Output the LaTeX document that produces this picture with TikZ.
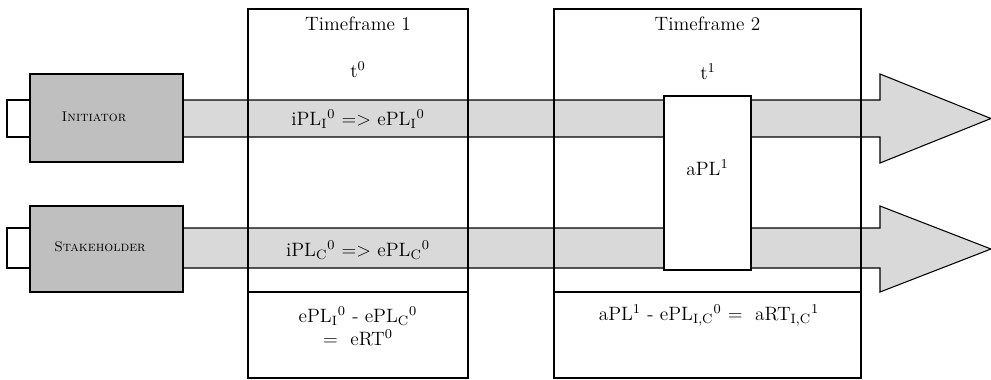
\documentclass[tikz,border=0pt]{standalone}
\begin{document}
\begin{tikzpicture}[x=2mm,y=2mm,font=\fontsize{11}{13}\selectfont,
    band/.style={draw,line width=0.6pt,fill=black!15},
    actor/.style={draw,line width=1.1pt,fill=black!25},
    frame/.style={draw,line width=0.8pt},
    tag/.style={font=\fontsize{8}{10}\selectfont\scshape}]
    \useasboundingbox (0,0) rectangle (99.1,37.9);
    % the two arrows through the timeframes
    \draw[band] (15,27.9) -- (88,27.9) -- (88,30.5) -- (99.1,26.05) -- (88,21.6) -- (88,24.2) -- (15,24.2) -- cycle;
    \draw[band] (15,15.1) -- (88,15.1) -- (88,17.3) -- (99.1,13.0) -- (88,8.7) -- (88,11.1) -- (15,11.1) -- cycle;
    \draw[frame] (24.8,0.1) rectangle (46.8,37.0); \draw[frame] (24.8,8.7) -- (46.8,8.7);
    \draw[frame] (55.4,0.1) rectangle (86.1,37.0); \draw[frame] (55.4,8.7) -- (86.1,8.7);
    \draw[frame,fill=white] (66.4,10.9) rectangle (75.1,28.3);
    % actors on the left
    \draw[line width=0.8pt,fill=white] (0.7,24.2) rectangle (3,27.9);
    \draw[line width=0.8pt,fill=white] (0.7,11.1) rectangle (3,15.1);
    \draw[actor] (3,21.7) rectangle (18.3,30.5);
    \draw[actor] (3,8.7) rectangle (18.3,17.3);
    \node[tag] (init) at (9.4,26.2) {Initiator};
    \node[tag] (stake) at (10,13.2) {Stakeholder};
    % timeframe 1
    \node (tf1) at (35.8,35.5) {Timeframe 1};
    \node (t0) at (35.8,30.9) {t\textsuperscript{0}};
    \node (plI) at (35.8,26.0) {iPL\textsubscript{I}\textsuperscript{0} => ePL\textsubscript{I}\textsuperscript{0}};
    \node (plC) at (35.8,12.9) {iPL\textsubscript{C}\textsuperscript{0} => ePL\textsubscript{C}\textsuperscript{0}};
    \node[align=center] (ert) at (35.8,5.3) {ePL\textsubscript{I}\textsuperscript{0} - ePL\textsubscript{C}\textsuperscript{0}\\= \ eRT\textsuperscript{0}};
    % timeframe 2
    \node (tf2) at (70.75,35.5) {Timeframe 2};
    \node (t1) at (70.8,30.7) {t\textsuperscript{1}};
    \node (apl) at (70.75,21.1) {aPL\textsuperscript{1}};
    \node (art) at (70.9,6.4) {aPL\textsuperscript{1} - ePL\textsubscript{I,C}\textsuperscript{0} = \ aRT\textsubscript{I,C}\textsuperscript{1}};
  \end{tikzpicture}
\end{document}
